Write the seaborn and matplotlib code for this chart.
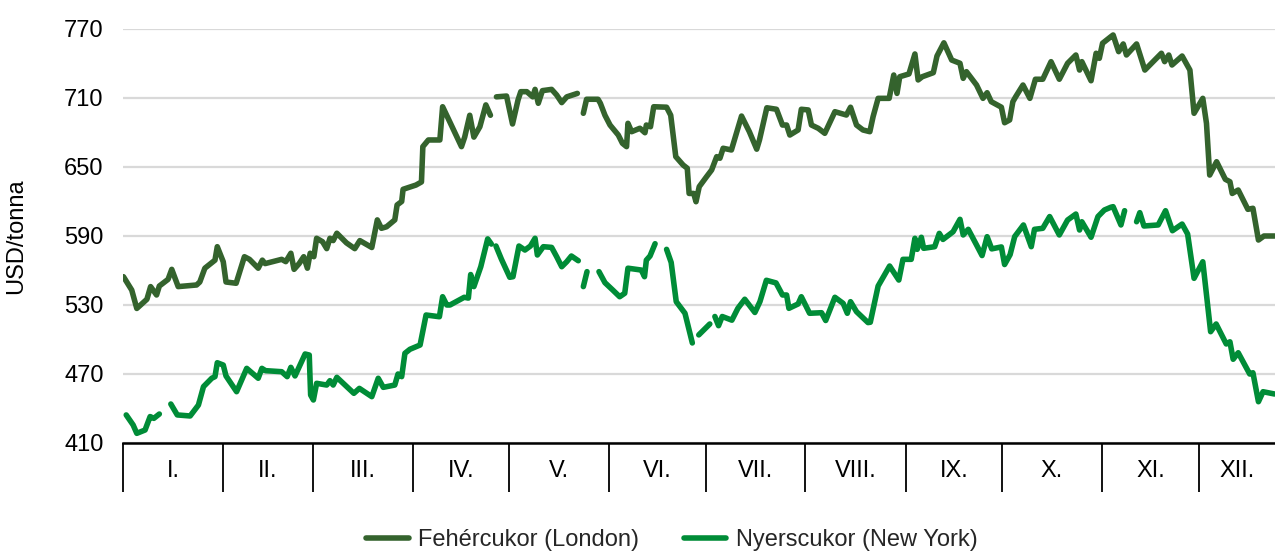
import numpy as np
import pandas as pd
import matplotlib
matplotlib.use("Agg")
import matplotlib.pyplot as plt
import seaborn as sns

# ---------------- data (trading-day index, USD/tonna) ----------------
months = ["I.", "II.", "III.", "IV.", "V.", "VI.", "VII.", "VIII.", "IX.", "X.", "XI.", "XII."]
month_edges = [0, 21.7, 41.3, 63.0, 83.9, 105.7, 126.7, 148.4, 170.2, 191.2, 212.8, 234.0, 250.5]
yticks = [410, 470, 530, 590, 650, 710, 770]

white_day = [0.1, 1.9, 3.0, 5.2, 6.0, 7.3, 7.9, 9.8, 10.6, 12.0, 16.0, 16.7, 17.8, 20.0, 20.5, 21.8,
             22.4, 24.6, 26.4, 27.5, 29.4, 30.3, 30.9, 34.5, 35.4, 36.5, 37.2, 38.3, 39.3, 40.1, 40.7,
             41.5, 42.1, 43.4, 44.3, 45.0, 45.7, 46.5, 48.6, 50.4, 51.5, 54.1, 55.3, 56.2, 57.3, 59.1,
             59.6, 60.6, 60.9, 63.7, 64.9, 65.2, 66.4, 68.9, 69.5, 70.7, 73.6, 74.3, 75.4, 76.3, 77.6,
             78.9, 79.9, 80.5, 81.2, 83.4, 84.7, 85.9, 86.5, 87.8, 89.1, 89.6, 90.3, 91.2, 93.2, 94.3,
             95.4, 96.5, 98.8, 99.5, 100.1, 100.8, 103.3, 103.8, 104.8, 105.9, 107.7, 108.6, 109.5,
             109.8, 110.6, 112.4, 113.5, 113.8, 114.7, 115.4, 118.2, 119.1, 120.2, 121.8, 122.7, 123.1,
             124.1, 124.6, 125.3, 126.9, 128.0, 129.1, 129.8, 130.5, 132.3, 134.5, 136.2, 137.8, 138.4,
             140.0, 142.1, 143.4, 144.3, 145.0, 146.8, 147.5, 149.0, 149.7, 151.2, 152.6, 154.8, 157.3,
             158.2, 159.5, 160.9, 162.4, 163.1, 164.2, 166.6, 167.6, 168.3, 168.9, 170.9, 172.2, 172.9,
             173.8, 176.2, 177.0, 178.5, 180.2, 182.0, 182.7, 183.4, 185.6, 187.0, 187.9, 188.8, 191.0,
             191.7, 192.8, 193.5, 194.1, 195.7, 197.2, 198.4, 200.0, 201.8, 203.6, 205.4, 207.2, 208.0,
             208.5, 210.5, 211.6, 212.3, 213.0, 214.8, 215.3, 216.5, 217.5, 218.2, 220.4, 222.2, 225.8,
             226.5, 227.4, 228.1, 230.3, 232.0, 232.9, 234.8, 235.6, 236.3, 237.8, 239.7, 240.7, 241.2,
             242.5, 244.6, 245.7, 246.9, 248.1, 250.4]
white_usd = [554.6, 543, 527, 535, 546, 538.7, 546.5, 552.3, 561, 546, 547.4, 550, 562, 569, 580.7, 567.6,
             550, 548.9, 572, 569.7, 562, 569, 566, 569.7, 567.7, 575, 561, 566, 572, 562, 575,
             572, 588, 585, 579, 588, 586, 592.4, 584, 579, 586, 580, 604, 596.7, 598, 604,
             617, 620, 630.6, 634.3, 637, 667.7, 673.5, 673.5, 702.4, 692.3, 667.7, 676, 695, 676, 685,
             704, 695, None, 711, 711.7, 687.4, 708.3, 715.5, 715.5, 711, 717.5, 705.4, 716.4, 717.5, 712.6,
             706, 711, 714, None, 696.7, 708.9, 708.9, 705.4, 695, 686.5, 677.8, 670.6, 667.7,
             688, 680.7, 683.7, 679.8, 686.5, 685, 702.4, 702, 695, 659, 651.7, 648.9, 627,
             627, 619.8, 632.9, 641.6, 647.4, 659, 657.6, 666.3, 664.8, 694.3, 680.7, 665.5, 673.5,
             701.5, 700.2, 686.5, 686.5, 677.8, 682.2, 700.2, 699.6, 686.5, 683.6, 679.3, 698.1, 695.2,
             702, 686.5, 682.2, 680.7, 693.7, 709.7, 709.7, 730, 714, 728.5, 730.9, 748.3, 725.7,
             728.5, 732, 746.5, 758, 743, 740.2, 727.1, 732.9, 721.3, 709.7, 714.6, 706.8, 702,
             688.5, 690.9, 706.8, 711, 721.3, 709.7, 726.3, 726.3, 741.6, 726.3, 740.2, 747.4, 734.3,
             741.6, 725, 748.9, 744.5, 757.6, 763.3, 764.8, 750.3, 757, 747.4, 757, 734.3, 748.9,
             741.6, 747.4, 738.7, 746.5, 734.3, 696.7, 709.7, 688, 643, 654.6, 639.3, 637.2, 627,
             630, 613.2, 614.1, 586.5, 590, 590]

raw_day = [0.7, 2.2, 3.0, 4.8, 5.9, 6.7, 7.9, 9.1, 10.4, 11.8, 14.6, 16.4, 17.5, 19.3, 20.0, 20.5, 21.8,
           22.4, 24.7, 26.9, 29.4, 30.2, 31.0, 34.5, 35.7, 36.5, 37.4, 39.6, 40.5, 40.8, 41.4, 42.1,
           44.3, 45.0, 45.7, 46.5, 50.2, 51.4, 54.1, 55.5, 56.6, 59.1, 59.8, 60.6, 61.3, 62.4, 64.6,
           65.9, 68.8, 69.5, 70.4, 71.1, 74.2, 75.1, 75.6, 76.3, 77.8, 79.3, 80.1, 80.6, 81.1, 82.3,
           84.1, 84.8, 86.1, 87.4, 88.6, 89.6, 90.1, 91.4, 93.2, 94.3, 95.4, 96.5, 97.5, 99.0, 99.5,
           100.1, 100.9, 102.2, 103.5, 104.8, 106.5, 108.0, 109.1, 109.8, 112.7, 113.4, 113.8, 114.6,
           115.7, 117.0, 118.2, 119.2, 120.3, 122.2, 123.8, 124.5, 125.2, 127.6, 128.2, 128.7, 129.5,
           130.3, 132.4, 133.7, 135.2, 137.4, 138.5, 139.9, 142.0, 143.4, 144.3, 144.8, 146.8, 147.5,
           149.3, 151.9, 152.8, 154.8, 156.6, 157.5, 158.2, 159.5, 162.0, 162.5, 164.2, 166.7, 168.7,
           169.6, 171.4, 172.2, 172.7, 173.6, 174.1, 176.5, 177.5, 178.3, 180.5, 182.0, 182.7, 183.8,
           185.6, 186.8, 187.9, 188.9, 191.0, 191.7, 192.9, 193.9, 195.8, 197.5, 198.2, 200.0, 201.5,
           203.6, 205.4, 207.2, 208.0, 208.5, 210.5, 212.0, 213.4, 214.8, 215.3, 217.0, 217.8, 219.1,
           220.4, 221.1, 222.0, 225.1, 226.7, 228.2, 230.3, 231.5, 232.9, 234.8, 236.5, 237.7, 239.9,
           240.7, 241.4, 242.5, 245.0, 245.7, 246.9, 247.9, 250.4]
raw_usd = [434.4, 425.7, 418.4, 421.3, 433, 431.4, 435.2, None, 443.9, 434.4, 433.5, 443, 459, 466.3, 467.7, 479.8, 477.8,
           468.3, 454.6, 474.9, 466.3, 474.9, 472.9, 472, 467.7, 475.8, 468.3, 487.4, 486.5, 451.7, 447.4, 461.9,
           460.4, 464.2, 460.4, 467.1, 453.2, 457.5, 450.3, 466.3, 458.4, 460.4, 470, 467.7, 488, 491.5, 495.2,
           521.3, 519.8, 537.2, 530, 530, 536.7, 536, 556.5, 546, 563.3, 587.5, 583, None, 581.3, 569.7,
           554.1, 554.6, 581.3, 577.8, 581.3, 588, 573.5, 580.7, 580.1, 572, 563.3, 567.7, 572.6, 568.5, None,
           546, 559, None, 559, 549.4, 543, 537.2, 540.2, 562, 560.4, 554.6, 569, 572.6,
           583.3, None, 578.4, 567, 532.9, 522.8, 497, None, 504, 513.5, None, 520, 512,
           520, 516.8, 527.1, 535, 523.5, 532.9, 551.5, 549.2, 538.7, 538.7, 527.1, 530.9, 537.2,
           522.8, 523.3, 516.5, 536.7, 531.4, 522.8, 532.9, 524.2, 514.7, 515, 546.5, 563.9, 551.7,
           569.7, 569.7, 588, 578.4, 588.9, 579.3, 580.7, 592.3, 587, 593.7, 604.5, 590.9, 595.8,
           582.2, 573, 589.4, 578.8, 580.5, 565.2, 573.8, 589.5, 599.6, 580.7, 595.8, 596.7, 606.9,
           590.9, 603.9, 609.1, 595.2, 602.4, 588.9, 606.9, 612.6, 615, 615.5, 599.6, 612, None,
           602.4, 610.3, 598.7, 599.6, 612, 594.6, 600.4, 591.7, 553.2, 567.6, 506.8, 513.5, 496.1,
           498, 482.8, 488.5, 470, 471.1, 445.9, 454.6, 452.6]

series_names = ["Fehércukor (London)", "Nyerscukor (New York)"]
colors = ["#34632D", "#008C37"]


def to_frame(days, vals, name):
    rows = []
    seg = 0
    for d, v in zip(days, vals):
        if v is None:
            seg += 1
            continue
        rows.append((d, v, name, f"{name}-{seg}"))
    return pd.DataFrame(rows, columns=["day", "usd", "series", "seg"])


df = pd.concat([to_frame(white_day, white_usd, series_names[0]),
                to_frame(raw_day, raw_usd, series_names[1])], ignore_index=True)

# ---------------- plot ----------------
sns.set_style("white")
plt.rcParams["font.family"] = ["Liberation Sans", "DejaVu Sans"]

fig = plt.figure(figsize=(12.75, 5.52), dpi=100)
ax = fig.add_axes([123 / 1275, 1 - 443 / 552, 1152 / 1275, 414 / 552])

sns.lineplot(data=df, x="day", y="usd", hue="series", units="seg", estimator=None,
             sort=False, palette=dict(zip(series_names, colors)), linewidth=4.0,
             solid_capstyle="round", solid_joinstyle="round", ax=ax)

ax.set_xlim(month_edges[0], month_edges[-1])
ax.set_ylim(yticks[0], yticks[-1])
ax.set_yticks(yticks)
ax.yaxis.grid(True, color="#D9D9D9", linewidth=1.6)
ax.xaxis.grid(False)
ax.set_axisbelow(True)
for s in ["top", "right", "left"]:
    ax.spines[s].set_visible(False)
ax.spines["bottom"].set_color("black")
ax.spines["bottom"].set_linewidth(1.8)

ax.tick_params(axis="y", left=False, length=0, pad=14, labelsize=17, labelcolor="black")

# month separators as major ticks, month names as minor ticks
ax.set_xticks(month_edges[:-1])
ax.set_xticklabels([])
centers = [(a + b) / 2 for a, b in zip(month_edges[:-1], month_edges[1:])]
ax.set_xticks(centers, minor=True)
ax.set_xticklabels(months, minor=True)
ax.tick_params(axis="x", which="major", bottom=True, length=35, width=1.3, color="black",
               direction="out")
ax.tick_params(axis="x", which="minor", bottom=True, length=0, pad=12, labelsize=17,
               labelcolor="black")

ax.set_xlabel("")
ax.set_ylabel("USD/tonna", fontsize=17, color="black")
ax.yaxis.set_label_coords(-0.083, 0.5)

handles, labels = ax.get_legend_handles_labels()
if ax.get_legend() is not None:
    ax.get_legend().remove()
fig.legend(handles, labels, loc="center", bbox_to_anchor=(0.527, 0.022), ncol=2,
           frameon=False, fontsize=17, handlelength=1.8, handletextpad=0.4,
           columnspacing=1.9)

fig.savefig("out.png", dpi=100)
